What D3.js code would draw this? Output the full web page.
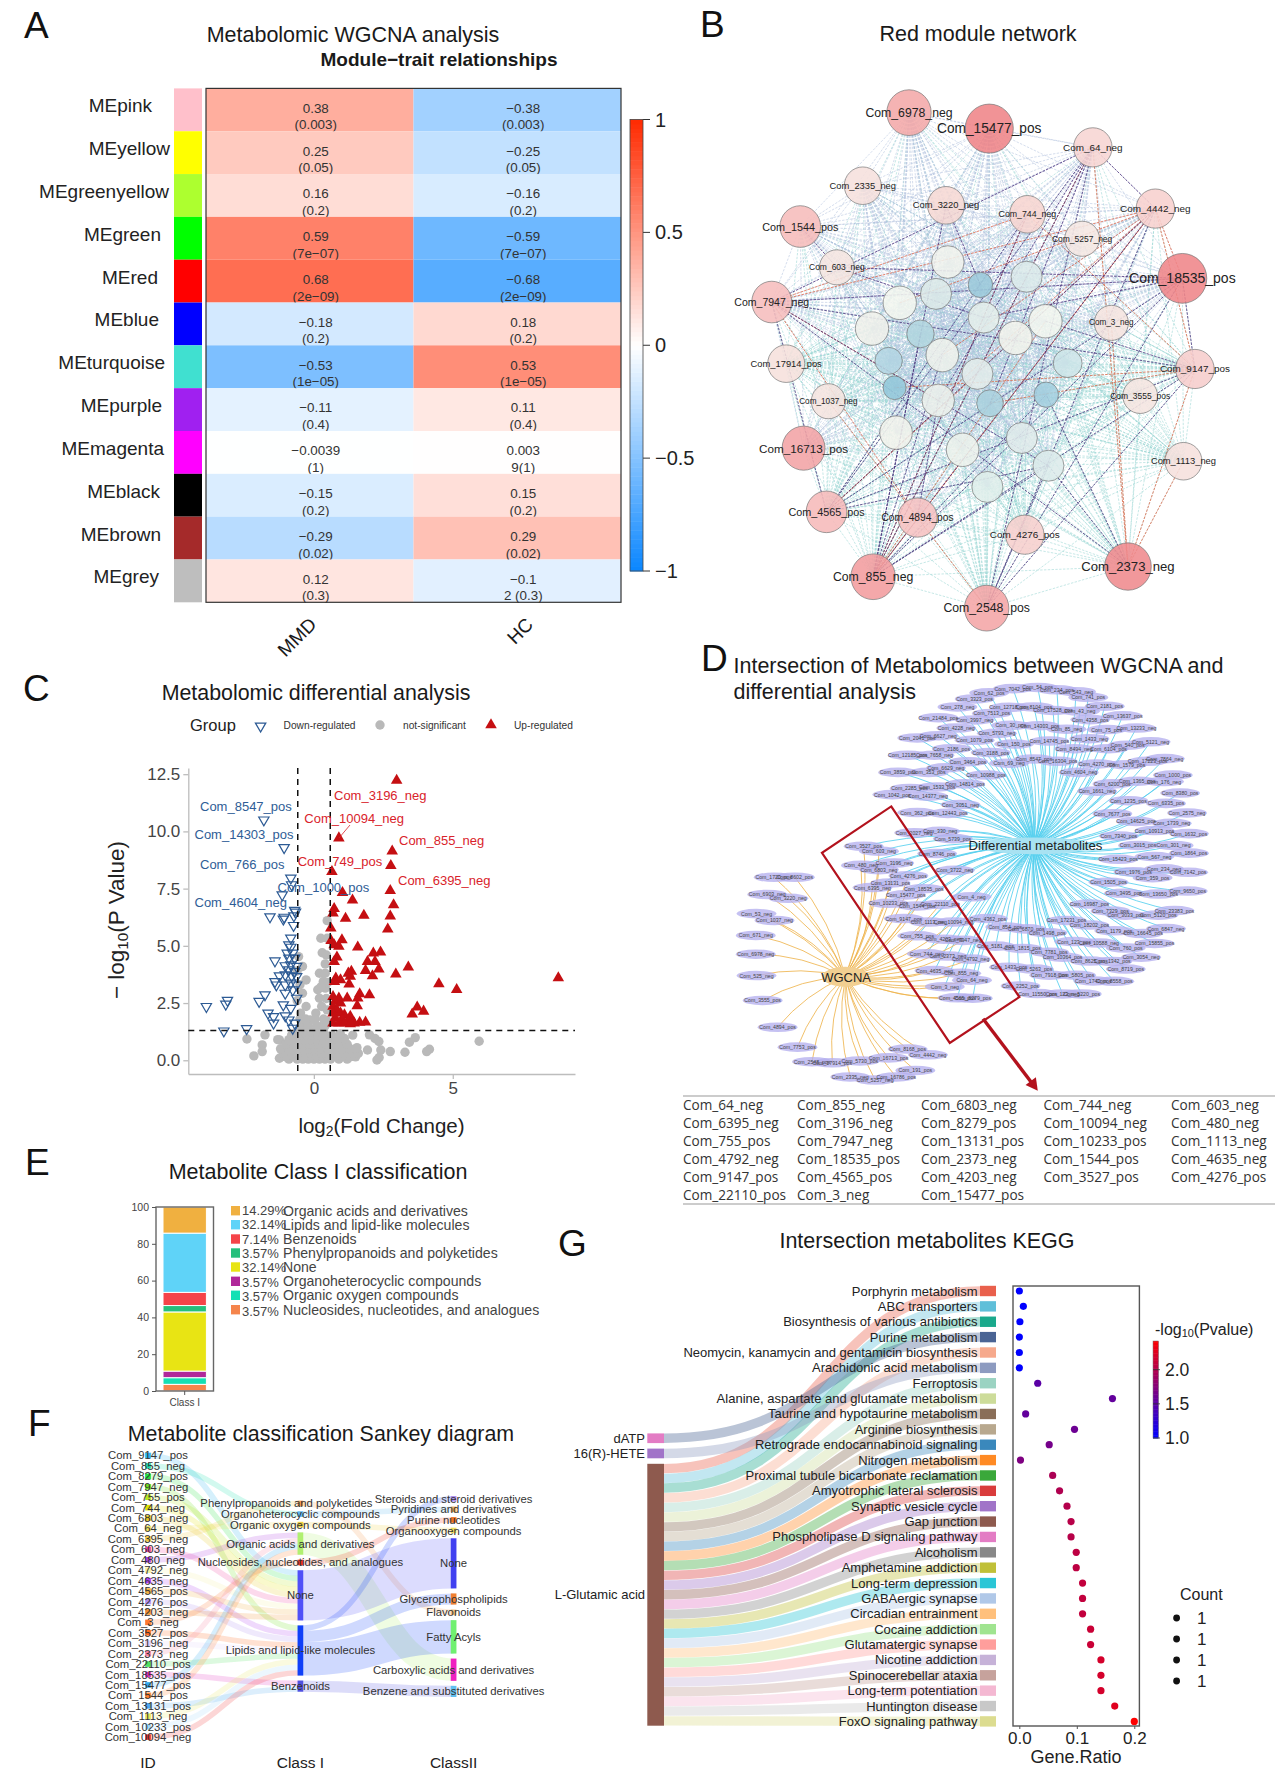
<!DOCTYPE html>
<html><head><meta charset="utf-8">
<script src="https://cdn.jsdelivr.net/npm/d3@7/dist/d3.min.js"></script>
<style>html,body{margin:0;background:#fff}svg{display:block}text{font-family:"Liberation Sans",Arial,sans-serif}</style>
</head><body><svg id="c" width="1280" height="1772"></svg>
<script>
// ---------- A: module-trait heatmap
const moduleNames=["MEpink","MEyellow","MEgreenyellow","MEgreen","MEred","MEblue","MEturquoise","MEpurple","MEmagenta","MEblack","MEbrown","MEgrey"];
const moduleColors=["#ffc0cb","#ffff00","#adff2f","#00ff00","#ff0000","#0000ff","#40e0d0","#a020f0","#ff00ff","#000000","#a52a2a","#bebebe"];
const corrMMD=[0.38,0.25,0.16,0.59,0.68,-0.18,-0.53,-0.11,-0.0039,-0.15,-0.29,0.12];
const corrHC=[-0.38,-0.25,-0.16,-0.59,-0.68,0.18,0.53,0.11,0.0039,0.15,0.29,-0.12];
const mmdLine1=["0.38","0.25","0.16","0.59","0.68","−0.18","−0.53","−0.11","−0.0039","−0.15","−0.29","0.12"];
const mmdLine2=["(0.003)","(0.05)","(0.2)","(7e−07)","(2e−09)","(0.2)","(1e−05)","(0.4)","(1)","(0.2)","(0.02)","(0.3)"];
const hcLine1=["−0.38","−0.25","−0.16","−0.59","−0.68","0.18","0.53","0.11","0.003","0.15","0.29","−0.1"];
const hcLine2=["(0.003)","(0.05)","(0.2)","(7e−07)","(2e−09)","(0.2)","(1e−05)","(0.4)","9(1)","(0.2)","(0.02)","2 (0.3)"];
const traits=["MMD","HC"];
const heatTicks=[1,0.5,0,-0.5,-1];
// ---------- B: network (label, layout x, layout y, layout rx, layout ry, fill)
const hubNodes=[["Com_6978_neg",565,276,60,56,"#f4a9a9"],["Com_15477_pos",782,315,65,60,"#ef8488"],["Com_64_neg",1062,361,52,48,"#f7d5d3"],["Com_2335_neg",440,455,50,46,"#f6e0dd"],["Com_3220_neg",665,503,50,46,"#f6d8d4"],["Com_744_neg",885,525,48,46,"#f7d5d0"],["Com_4442_neg",1231,511,52,48,"#f7d0ce"],["Com_5257_neg",1033,585,47,43,"#f5e7e2"],["Com_1544_pos",271,555,55,51,"#f6bcbb"],["Com_603_neg",370,655,47,43,"#f5e5e0"],["Com_18535_pos",1304,682,66,61,"#ef8589"],["Com_7947_neg",194,740,54,51,"#f6bdbd"],["Com_3_neg",1112,791,46,43,"#f5e4df"],["Com_17914_pos",233,891,50,46,"#f6e0dc"],["Com_9147_pos",1338,904,52,48,"#f6cdcc"],["Com_1037_neg",347,983,46,43,"#f5e4df"],["Com_3555_pos",1190,970,47,43,"#f5e5e0"],["Com_1113_neg",1307,1130,50,46,"#f6e0dd"],["Com_16713_pos",280,1098,58,54,"#f3a3a5"],["Com_4565_pos",342,1254,55,51,"#f6b9b9"],["Com_4894_pos",588,1268,53,48,"#f6c2c1"],["Com_4276_pos",878,1310,52,48,"#f6cfcd"],["Com_855_neg",468,1413,60,56,"#f29c9e"],["Com_2373_neg",1157,1388,63,58,"#ef8a8d"],["Com_2548_pos",775,1490,60,56,"#f4a5a6"]];
const innerNodes=[[670,642,44,40,"#f0f3ed"],[883,678,42,38,"#dcebea"],[758,698,33,31,"#9ccadb"],[638,720,42,38,"#dce9e8"],[540,742,45,41,"#f3f6ef"],[767,778,42,38,"#e4eeea"],[465,805,45,41,"#eff0ea"],[596,818,37,34,"#b2d6df"],[934,787,45,41,"#f3f6ef"],[853,828,45,41,"#f1f2ec"],[655,870,44,41,"#eef1ec"],[510,884,37,33,"#b3d5e2"],[994,890,39,35,"#cde5e8"],[750,916,42,38,"#e3ecea"],[526,950,31,29,"#93c7da"],[936,967,33,31,"#a4cfdf"],[784,988,36,33,"#abd2de"],[644,981,44,40,"#ebefeb"],[530,1060,44,41,"#f1f3ec"],[710,1102,44,41,"#ecf1ec"],[870,1073,42,38,"#dfebea"],[942,1141,42,38,"#dcebea"],[777,1193,42,38,"#dfeeeb"]];
const tealHubs=["2373","2548","1113","9147","4276","1037","17914","4565","855","3555"];
const purpleEdges=[["64","7947"],["64","4442"],["64","855"],["64","2548"],["64","4565"],["64","i16"],["4442","855"],["4442","4565"],["4442","2548"],["18535","855"],["18535","4565"],["9147","855"],["9147","4565"],["9147","2548"],["7947","9147"],["7947","2373"],["7947","18535"],["7947","4565"],["7947","i21"],["1544","603"],["603","18535"],["603","i5"],["3220","i2"],["3220","855"],["744","855"],["744","4565"],["2373","i15"],["2373","i21"],["855","i7"],["855","i10"],["855","i21"],["2548","i21"],["4565","i21"],["855","i15"],["18535","i5"],["i8","9147"],["18535","9147"],["4894","i17"],["18535","2548"],["64","i17"]];
const orangeEdges=[["7947","744"],["7947","4442"],["4442","855"],["4442","i4"],["4442","i10"],["4442","i17"],["4442","4565"],["64","2373"],["64","855"],["4442","9147"],["4442","18535"],["744","9147"],["9147","2373"],["1113","2373"],["1037","2548"],["7947","i17"],["4565","i13"],["855","i8"],["855","744"],["3","2373"],["9147","i16"],["9147","i14"],["7947","4894"],["855","4442"]];
// ---------- C: volcano (log2FC, -log10 P)
const upPoints=[[2.98,12.23],[.9,9.71],[2.82,9.14],[2.77,8.5],[.65,8.24],[2.75,7.41],[1.03,7.32],[1.39,7],[2.87,6.79],[.73,6.62],[.69,6.43],[1.8,6.33],[1.14,6.2],[2.75,6.3],[2.66,5.73],[.61,5.77],[.62,5.23],[1.01,5.26],[.73,5.04],[.9,4.97],[1.58,4.94],[2.4,4.72],[2.14,4.68],[.83,4.5],[.73,4.31],[1.93,4.31],[2.2,4.31],[3.4,4.07],[1.35,3.88],[1.24,3.8],[1.86,3.92],[2.34,3.98],[2.95,3.76],[2.11,3.69],[1.31,3.66],[.79,3.59],[.96,3.51],[.74,3.44],[1.27,3.32],[4.5,3.34],[8.8,3.6],[5.14,3.08],[1.65,2.9],[2,2.86],[.69,2.78],[.9,2.71],[1.2,2.71],[1.58,2.71],[3.72,2.32],[3.95,2.14],[3.54,2.01],[1.56,2.38],[.76,2.57],[.96,2.49],[.69,2.35],[.83,2.2],[.69,2.06],[.96,2.06],[1.1,1.98],[1.31,1.91],[.76,1.84],[1.03,1.76],[1.24,1.69],[1.45,1.62],[1.65,1.65],[1.86,1.66],[.69,1.62],[.9,1.62],[1.1,1.62],[1.31,1.59]];
const downPoints=[[-1.8,10.5],[-1.07,9.29],[-.83,7.96],[-.8,7.67],[-1.14,7.23],[-.69,6.55],[-.66,6.47],[-1.58,6.27],[-1.07,6.25],[-.72,6.31],[-1.1,6.17],[-.73,5.89],[-.83,5.34],[-.9,5.04],[-.83,4.94],[-.96,4.68],[-.76,4.68],[-.9,4.46],[-1.4,4.34],[-.69,4.46],[-1.03,4.13],[-.83,4.17],[-.62,4.1],[-.9,3.95],[-.69,3.88],[-1.24,3.69],[-1.03,3.73],[-.8,3.69],[-.62,3.66],[-1.4,3.44],[-1.35,3.29],[-1.03,3.29],[-.83,3.37],[-.62,3.29],[-1.03,2.93],[-.76,3.08],[-1.76,2.86],[-1.97,2.57],[-3.11,2.62],[-3.17,2.45],[-3.87,2.35],[-1.1,2.42],[-.83,2.27],[-.62,2.71],[-1.65,2.06],[-1.45,1.91],[-1.45,1.62],[-1.03,1.94],[-.9,1.76],[-.69,1.62],[-.76,1.4],[-2.42,1.38],[-3.24,1.28]];
const greyPoints=[[-2.41,.93],[-1.76,1.11],[-1.86,.67],[-2.16,.19],[-1.86,.38],[-1.24,.09],[-1.24,.89],[5.95,.83],[3.65,.99],[3.44,.79],[4.16,.48],[4.06,.38],[2.75,.38],[3.28,.35],[2.34,.82],[2,1.11],[1.93,.45],[2.27,.01],[2.41,.45],[2.2,.95],[2.35,.12],[.48,6.1],[.25,5.33],[.48,5.33],[.41,4.21],[.2,3.8],[.41,3.8],[.34,3.44],[.14,3.08],[.41,3.15],[.2,2.71],[.28,2.35],[.48,2.2],[.07,2.06],[.3,4.7],[.45,4.6],[.5,3.4],[.25,3.2],[.45,2.7],[.3,1.5],[.5,1.7],[-.55,4.53],[-.41,4.1],[-.28,3.51],[-.41,2.93],[-.28,2.35],[-.48,2.06],[-.14,1.76],[-.6,3.9],[-.5,3.3],[-.6,2.6],[-.9,.05],[-.6,.05],[-.4,.05],[-.2,.05],[0,.05],[.2,.05],[.4,.05],[.6,.05],[.9,.05],[1.2,.05],[-1,.15],[-.7,.15],[-.5,.15],[-.3,.15],[-.1,.15],[.1,.15],[.3,.15],[.5,.15],[.7,.15],[1,.15],[1.3,.15],[1.5,.15],[-1.1,.3],[-.8,.3],[-.5,.3],[-.3,.3],[-.1,.3],[.1,.3],[.3,.3],[.5,.3],[.8,.3],[1.1,.3],[1.4,.3],[1.6,.3],[-1.2,.5],[-.9,.5],[-.6,.5],[-.35,.5],[-.15,.5],[.05,.5],[.25,.5],[.5,.5],[.75,.5],[1,.5],[1.3,.5],[1.55,.55],[-1,.7],[-.7,.7],[-.45,.7],[-.2,.7],[0,.7],[.2,.7],[.45,.7],[.7,.7],[.95,.7],[1.2,.7],[-1.3,.9],[-.9,.9],[-.6,.9],[-.35,.9],[-.1,.9],[.1,.9],[.35,.9],[.6,.9],[.85,.9],[1.1,.95],[-.8,1.1],[-.5,1.1],[-.25,1.1],[-.05,1.1],[.15,1.1],[.4,1.1],[.65,1.1],[.95,1.15],[1.4,1.1],[-.6,1.25],[-.35,1.25],[-.1,1.25],[.1,1.25],[.35,1.25],[-.45,1.5],[-.2,1.5],[.1,1.5],[.4,1.5],[-.5,1.8],[-.3,1.8],[.05,1.8],[.35,1.8]];
const volcanoYTicks=[0,2.5,5,7.5,10,12.5];
const volcanoXTicks=[0,5];
const foldCut=[-0.58,0.59];
const pCut=1.3;
// ---------- D: bipartite network (label, layout x, layout y)
const diffOnly=[["Com_7042_pos",870,127],["Com_54_pos",935,124],["Com_234_pos",985,130],["Com_543_neg",1035,135],["Com_62_pos",808,138],["Com_741_pos",1067,150],["Com_3323_pos",770,154],["Com_278_neg",725,175],["Com_12718_pos",860,176],["Com_8104_pos",925,175],["Com_2181_pos",1110,173],["Com_17528_pos",975,184],["Com_43_neg",1045,186],["Com_7513_pos",815,192],["Com_21484_pos",675,203],["Com_3997_neg",770,209],["Com_4358_pos",1072,208],["Com_13637_pos",1157,198],["Com_4228_neg",722,230],["Com_30_pos",865,223],["Com_14303_pos",940,224],["Com_85_neg",1010,233],["Com_75_pos",1115,234],["Com_13233_neg",1193,230],["Com_5793_neg",828,244],["Com_6627_neg",675,250],["Com_2041_pos",620,256],["Com_1079_pos",770,262],["Com_150_pos",873,272],["Com_14745_pos",965,264],["Com_1433_neg",1070,258],["Com_540_pos",1170,275],["Com_5121_neg",1230,266],["Com_2186_pos",710,284],["Com_8494_neg",1030,284],["Com_6104_pos",1120,284],["Com_3188_pos",812,294],["Com_12185_pos",595,301],["Com_7658_neg",665,301],["Com_3464_pos",753,318],["Com_69_neg",860,322],["Com_8547_pos",925,311],["Com_16304_pos",987,317],["Com_4270_pos",1090,324],["Com_1579_pos",1168,326],["Com_17223_pos",1222,317],["Com_7864_neg",1267,310],["Com_6629_neg",695,334],["Com_3859_pos",570,346],["Com_353_pos",650,346],["Com_10988_pos",800,353],["Com_4604_neg",1042,346],["Com_1000_pos",1288,353],["Com_14814_pos",745,376],["Com_6200_pos",1130,376],["Com_1365_pos",1195,369],["Com_176_neg",1265,370],["Com_1533_pos",672,384],["Com_2285_pos",600,388],["Com_1661_neg",1090,395],["Com_1042_pos",555,404],["Com_14377_neg",648,408],["Com_8380_pos",1307,400],["Com_1235_pos",1172,420],["Com_6335_pos",1270,427],["Com_3051_neg",733,430],["Com_362_pos",620,451],["Com_12443_pos",700,453],["Com_2575_neg",1325,452],["Com_7677_pos",1130,454],["Com_14625_pos",1192,474],["Com_1739_neg",1285,479],["Com_10913_pos",1240,498],["Com_1632_pos",1330,506],["Com_2027_neg",612,504],["Com_330_neg",680,500],["Com_5739_pos",713,519],["Com_7340_pos",1147,512],["Com_3015_pos",1197,537],["Com_301_neg",1290,537],["Com_8746_pos",672,558],["Com_1864_pos",1330,557],["Com_567_neg",1240,566],["Com_15423_pos",1145,573],["Com_3722_neg",718,602],["Com_234_neg",1265,598],["Com_7142_pos",1328,607],["Com_1976_pos",1185,606],["Com_359_pos",1235,621],["Com_1505_pos",1120,633],["Com_3495_pos",1160,662],["Com_13650_pos",1250,664],["Com_9650_pos",1327,656],["Com_4_neg",762,671],["Com_16987_pos",1070,690],["Com_7329_pos",1125,708],["Com_23383_pos",1292,707],["Com_3033_pos",1165,719],["Com_5120_pos",1250,719],["Com_4362_pos",805,728],["Com_17231_pos",1010,733],["Com_18202_pos",1070,745],["Com_6847_neg",1270,754],["Com_854_pos",850,750],["Com_6870_pos",905,755],["Com_1498_pos",960,765],["Com_1179_pos",1135,760],["Com_16645_pos",1210,767],["Com_123_pos",1030,788],["Com_10588_neg",1095,792],["Com_15855_pos",1240,793],["Com_5181_pos",825,800],["Com_1815_pos",895,806],["Com_7781_pos",965,816],["Com_760_pos",1165,805],["Com_10364_pos",1000,829],["Com_8625_pos",1070,839],["Com_1342_pos",1130,840],["Com_3054_neg",1205,829],["Com_1433_pos",860,855],["Com_5263_pos",925,860],["Com_8719_pos",1165,860],["Com_7918_pos",965,876],["Com_5805_pos",1035,876],["Com_1740_pos",1080,891],["Com_8558_pos",1135,892],["Com_2252_pos",890,904],["Com_11550_pos",935,924],["Com_123_neg",1000,925],["Com_5220_pos",1050,925]];
const wgcnaOnly=[["Com_1720_pos",245,620],["Com_8602_pos",300,620],["Com_6903_neg",228,665],["Com_3220_neg",283,675],["Com_53_neg",200,715],["Com_1037_neg",247,733],["Com_671_neg",198,772],["Com_6978_neg",198,821],["Com_525_neg",200,877],["Com_3555_pos",216,942],["Com_4894_pos",255,1012],["Com_7753_pos",307,1064],["Com_2548_pos",345,1102],["Com_17914_pos",398,1105],["Com_5730_pos",470,1100],["Com_16713_pos",545,1092],["Com_8168_pos",595,1069],["Com_4442_neg",648,1084],["Com_191_pos",615,1125],["Com_2335_neg",445,1142],["Com_5257_neg",510,1150],["Com_16786_pos",565,1142]];
const sharedNodes=[["Com_3527_pos",480,539],["Com_603_neg",520,552],["Com_480_neg",473,589],["Com_3196_neg",560,583],["Com_6803_neg",520,600],["Com_4276_pos",597,616],["Com_13131_pos",550,635],["Com_6395_neg",503,647],["Com_18535_pos",637,650],["Com_15477_pos",590,666],["Com_10233_pos",545,688],["Com_1544_pos",620,695],["Com_22110_pos",680,691],["Com_9147_pos",585,728],["Com_1113_neg",650,737],["Com_10094_neg",715,737],["Com_755_pos",620,773],["Com_4203_neg",690,782],["Com_7947_neg",740,785],["Com_744_neg",645,820],["Com_2373_neg",700,826],["Com_4792_neg",760,834],["Com_4635_neg",665,864],["Com_855_neg",735,871],["Com_64_neg",763,889],["Com_3_neg",692,906],["Com_4565_pos",725,935],["Com_8279_pos",765,936]];
const tableCols=[["Com_64_neg","Com_6395_neg","Com_755_pos","Com_4792_neg","Com_9147_pos","Com_22110_pos"],["Com_855_neg","Com_3196_neg","Com_7947_neg","Com_18535_pos","Com_4565_pos","Com_3_neg"],["Com_6803_neg","Com_8279_pos","Com_13131_pos","Com_2373_neg","Com_4203_neg","Com_15477_pos"],["Com_744_neg","Com_10094_neg","Com_10233_pos","Com_1544_pos","Com_3527_pos"],["Com_603_neg","Com_480_neg","Com_1113_neg","Com_4635_neg","Com_4276_pos"]];
// ---------- E: class I composition
const classShares=[14.29,32.14,7.14,3.57,32.14,3.57,3.57,3.57];
const classNames=["Organic acids and derivatives","Lipids and lipid-like molecules","Benzenoids","Phenylpropanoids and polyketides","None","Organoheterocyclic compounds","Organic oxygen compounds","Nucleosides, nucleotides, and analogues"];
const classColors=["#f0b040","#5fd3f8","#f54449","#26bf7c","#e8e414","#b0289a","#14e0b4","#f5854c"];
const barTicks=[0,20,40,60,80,100];
// ---------- F: sankey
const sankeyIds=["Com_9147_pos","Com_855_neg","Com_8279_pos","Com_7947_neg","Com_755_pos","Com_744_neg","Com_6803_neg","Com_64_neg","Com_6395_neg","Com_603_neg","Com_480_neg","Com_4792_neg","Com_4635_neg","Com_4565_pos","Com_4276_pos","Com_4203_neg","Com_3_neg","Com_3527_pos","Com_3196_neg","Com_2373_neg","Com_22110_pos","Com_18535_pos","Com_15477_pos","Com_1544_pos","Com_13131_pos","Com_1113_neg","Com_10233_pos","Com_10094_neg"];
const sankeyIdColors=["#2fb6f0","#1fe0b0","#22e040","#70e020","#b8e620","#dfe000","#e8c820","#f0e060","#f0c840","#f040a0","#b040e0","#f5f0a0","#b040f0","#f0b040","#b090f0","#f09030","#ff7a30","#ff6a20","#e0d0f8","#f580a0","#50e060","#e030c0","#30a8f0","#ff8030","#50a8f0","#e8e860","#a0d8f8","#f03030"];
const idClass=["None","Organoheterocyclic compounds","None","Lipids and lipid-like molecules","None","None","None","Organic oxygen compounds","Phenylpropanoids and polyketides","None","Organic acids and derivatives","None","Lipids and lipid-like molecules","None","Lipids and lipid-like molecules","None","Nucleosides, nucleotides, and analogues","Lipids and lipid-like molecules","Lipids and lipid-like molecules","Organic acids and derivatives","Lipids and lipid-like molecules","Benzenoids","Organic acids and derivatives","Organic acids and derivatives","Benzenoids","Lipids and lipid-like molecules","Lipids and lipid-like molecules","Lipids and lipid-like molecules"];
const sankeyClass1=["Phenylpropanoids and polyketides","Organoheterocyclic compounds","Organic oxygen compounds","Organic acids and derivatives","Nucleosides, nucleotides, and analogues","None","Lipids and lipid-like molecules","Benzenoids"];
const sankeyClass1Colors=["#f59a50","#60b8f0","#f0d040","#b0f070","#f03020","#5050f8","#1040f8","#5050e0"];
const sankeyClass2=["Steroids and steroid derivatives","Pyridines and derivatives","Purine nucleotides","Organooxygen compounds","None","Glycerophospholipids","Flavonoids","Fatty Acyls","Carboxylic acids and derivatives","Benzene and substituted derivatives"];
const sankeyClass2Colors=["#b090f0","#f0b060","#f07020","#f0e060","#4040f0","#f08030","#f0c080","#70f070","#f020c0","#60c0f0"];
const class1to2=[[0,6,1],[1,1,1],[2,3,1],[3,8,4],[4,2,1],[5,4,9],[6,0,1],[6,5,2],[6,7,6],[7,9,2]];
// ---------- G: KEGG
const pathways=["Porphyrin metabolism","ABC transporters","Biosynthesis of various antibiotics","Purine metabolism","Neomycin, kanamycin and gentamicin biosynthesis","Arachidonic acid metabolism","Ferroptosis","Alanine, aspartate and glutamate metabolism","Taurine and hypotaurine metabolism","Arginine biosynthesis","Retrograde endocannabinoid signaling","Nitrogen metabolism","Proximal tubule bicarbonate reclamation","Amyotrophic lateral sclerosis","Synaptic vesicle cycle","Gap junction","Phospholipase D signaling pathway","Alcoholism","Amphetamine addiction","Long-term depression","GABAergic synapse","Circadian entrainment","Cocaine addiction","Glutamatergic synapse","Nicotine addiction","Spinocerebellar ataxia","Long-term potentiation","Huntington disease","FoxO signaling pathway"];
const pathwayColors=["#e9604c","#5fbfd9","#1aa98c","#4a6494","#f6a98c","#8d9bc0","#9bd3c2","#cddc9a","#8a6e58","#b8a88e","#3a88bc","#ff8a24","#3aa83a","#d93c3c","#a174c8","#8e5a4e","#e37cc4","#888888","#c0c038","#2ac6d6","#b0c8e8","#ffc07c","#a0e490","#ff9e9c","#c6b2d8","#c6a29c","#f4b8d2","#c8c8c8","#dcdc90"];
const geneRatio=[0,.007,.001,0,0,0,.032,.162,.011,.096,.052,.002,.058,.07,.083,.09,.09,.099,.099,.11,.11,.11,.124,.124,.142,.142,.142,.166,.2];
const logP=[1,1,1,1,1,1,1.5,1.55,1.55,1.6,1.65,1.7,1.95,1.98,2,2.02,2.02,2.05,2.05,2.08,2.08,2.08,2.12,2.12,2.18,2.18,2.18,2.25,2.42];
const metabolites=["dATP","16(R)-HETE","L-Glutamic acid"];
const metaboliteColors=["#e37cc4","#a174c8","#8e5a4e"];
const pathwaySource=pathways.map(p=>p==="Purine metabolism"?0:p==="Arachidonic acid metabolism"?1:2);
const ratioTicks=[0,.1,.2];
const logPTicks=[1,1.5,2];
const countLevels=[1,1,1,1];

const svg=d3.select("#c");
const T=(g,x,y,s,size,opt={})=>{const t=g.append("text").attr("x",x).attr("y",y).attr("font-size",size).attr("fill",opt.fill||"#1a1a1a").attr("text-anchor",opt.anchor||"start").attr("dominant-baseline",opt.base||"central").text(s);if(opt.weight)t.attr("font-weight",opt.weight);if(opt.tr)t.attr("transform",opt.tr);if(opt.ls)t.attr("letter-spacing",opt.ls);if(opt.family)t.style("font-family",opt.family);return t;};
const sub=(t,parts,size)=>{t.text(null);parts.forEach(([s,isSub],i)=>{const sp=t.append("tspan").text(s);if(isSub)sp.attr("font-size",size*.68).attr("dy",size*.28);else if(i>0&&parts[i-1][1])sp.attr("dy",-size*.28);});};
[["A",24,25],["B",700,24],["C",23,688],["D",701,658],["E",25,1162],["F",28,1423],["G",558,1243]].forEach(d=>T(svg,d[1],d[2],d[0],37,{fill:"#111"}));

// ===== A
{const g=svg.append("g");
T(g,353,34.5,"Metabolomic WGCNA analysis",21.5,{anchor:"middle"});
T(g,439,59,"Module−trait relationships",19,{anchor:"middle",weight:"bold"});
const y=d3.scaleBand().domain(moduleNames).range([88.4,602.3]);
const x=d3.scaleBand().domain(traits).range([206,621]);
const blue=d3.interpolateRgb("#fff","#0a86ff"),red=d3.interpolateRgb("#fff","#ff2a00");
const col=v=>v>=0?red(v):blue(-v);
moduleNames.forEach((m,i)=>{
 g.append("rect").attr("x",174).attr("y",y(m)).attr("width",28).attr("height",y.bandwidth()).attr("fill",moduleColors[i]);
 [[traits[0],corrMMD,mmdLine1,mmdLine2],[traits[1],corrHC,hcLine1,hcLine2]].forEach(([tr,c,l1,l2])=>{
  g.append("rect").attr("x",x(tr)).attr("y",y(m)).attr("width",x.bandwidth()).attr("height",y.bandwidth()).attr("fill",col(c[i]));
  const cx=x(tr)+x.bandwidth()/2+6;
  T(g,cx,y(m)+19.8,l1[i],13.4,{anchor:"middle",fill:"#333"});
  T(g,cx,y(m)+36.4,l2[i],13.4,{anchor:"middle",fill:"#333"});
 });
 T(g,[152,170,169,161,158,159,165,162,164,160,161,159][i],y(m)+y.bandwidth()/2-4,m,19,{anchor:"end",fill:"#222"});
});
g.append("rect").attr("x",206).attr("y",88.4).attr("width",415).attr("height",513.9).attr("fill","none").attr("stroke","#333").attr("stroke-width",1.2);
T(g,0,0,"MMD",19,{anchor:"middle",tr:"translate(297,637) rotate(-45)"});
T(g,0,0,"HC",19,{anchor:"middle",tr:"translate(520,631) rotate(-45)"});
const cb=d3.scaleLinear().domain([-1,1]).range([571,119.5]);
d3.range(-1,1,.02).forEach(v=>g.append("rect").attr("x",630).attr("y",cb(v+.02)).attr("width",13).attr("height",cb(v)-cb(v+.02)+.5).attr("fill",col(v+.01)));
heatTicks.forEach(v=>{g.append("line").attr("x1",643).attr("x2",650).attr("y1",cb(v)).attr("y2",cb(v)).attr("stroke","#333");T(g,655,cb(v),String(v).replace("-","−"),20,{fill:"#222"});});
g.append("rect").attr("x",630).attr("y",119.5).attr("width",13).attr("height",451.5).attr("fill","none").attr("stroke","#444").attr("stroke-width",.8);
}
// ===== B
{const g=svg.append("g");
T(g,978,34,"Red module network",21.5,{anchor:"middle"});
const X=d3.scaleLinear().domain([0,1568]).range([700,1280]),Y=d3.scaleLinear().domain([0,1568]).range([0,640]);
const RX=d3.scaleLinear().domain([0,1568]).range([0,580]),RY=d3.scaleLinear().domain([0,1568]).range([0,640]);
const nodes=hubNodes.map(d=>({id:d[0].split("_")[1],label:d[0],x:d[1],y:d[2],rx:d[3],ry:d[4],fill:d[5]})).concat(innerNodes.map((d,i)=>({id:"i"+i,label:"",x:d[0],y:d[1],rx:d[2],ry:d[3],fill:d[4]})));
const byId=new Map(nodes.map(n=>[n.id,n]));
const edge=(a,b,c,w,op,dash)=>g.append("line").attr("x1",X(a.x)).attr("y1",Y(a.y)).attr("x2",X(b.x)).attr("y2",Y(b.y)).attr("stroke",c).attr("stroke-width",w).attr("opacity",op).attr("stroke-dasharray",dash);
nodes.forEach((a,i)=>nodes.forEach((b,j)=>{if(j<=i)return;
 const teal=tealHubs.includes(a.id)||tealHubs.includes(b.id);
 edge(a,b,teal?"#8fd2d0":"#aebfdc",.7,.72,"2.4 1.4");}));
orangeEdges.forEach(([a,b])=>edge(byId.get(a),byId.get(b),"#e8603c",.85,.85,"2.6 1.2"));
purpleEdges.forEach(([a,b])=>edge(byId.get(a),byId.get(b),"#4d2f7c",.9,.85,"2.6 1.2"));
const fs=d3.scaleLinear().domain([46,66]).range([8.2,14]);
g.selectAll("ellipse").data(nodes).join("ellipse").attr("cx",d=>X(d.x)).attr("cy",d=>Y(d.y)).attr("rx",d=>RX(d.rx)).attr("ry",d=>RY(d.ry)).attr("fill",d=>d.fill).attr("fill-opacity",.88).attr("stroke","#777").attr("stroke-width",.7);
nodes.filter(d=>d.label).forEach(d=>T(g,X(d.x),Y(d.y),d.label,fs(d.rx),{anchor:"middle",fill:"#222"}));
}
// ===== C
{const g=svg.append("g");
T(g,316,693,"Metabolomic differential analysis",21.4,{anchor:"middle"});
T(g,190,725,"Group",16.5,{fill:"#222"});
const x=d3.scaleLinear().domain([-4.52,9.4]).range([188.3,575]),y=d3.scaleLinear().domain([-.6,12.77]).range([1074,768]);
const tri=d3.symbol().type(d3.symbolTriangle).size(58)();
const triS=d3.symbol().type(d3.symbolTriangle).size(46)();
const ax=g.append("g").attr("transform","translate(188.3,0)").call(d3.axisLeft(y).tickValues(volcanoYTicks).tickFormat(d3.format(".1f")).tickSize(5).tickSizeOuter(0));
const bx=g.append("g").attr("transform","translate(0,1074)").call(d3.axisBottom(x).tickValues(volcanoXTicks).tickFormat(d3.format("d")).tickSize(5).tickSizeOuter(0));
[ax,bx].forEach(a=>{a.selectAll("path,line").attr("stroke","#bdbdbd").attr("stroke-width",1.3);a.selectAll("text").attr("font-size",17).attr("fill","#444").style("font-family",'"Liberation Sans"');});
g.selectAll(".ns").data(greyPoints).join("circle").attr("cx",d=>x(d[0])).attr("cy",d=>y(d[1])).attr("r",4.7).attr("fill","#b9b9b9");
g.selectAll(".up").data(upPoints).join("path").attr("d",tri).attr("transform",d=>`translate(${x(d[0])},${y(d[1])})`).attr("fill","#c50f12");
g.selectAll(".dn").data(downPoints).join("path").attr("d",triS).attr("transform",d=>`translate(${x(d[0])},${y(d[1])}) rotate(180)`).attr("fill","none").attr("stroke","#2c5a94").attr("stroke-width",1.2);
foldCut.forEach(v=>g.append("line").attr("x1",x(v)).attr("x2",x(v)).attr("y1",768).attr("y2",1074).attr("stroke","#111").attr("stroke-width",1.5).attr("stroke-dasharray","6 5"));
g.append("line").attr("x1",188.3).attr("x2",575).attr("y1",y(pCut)).attr("y2",y(pCut)).attr("stroke","#111").attr("stroke-width",1.5).attr("stroke-dasharray","6 5");
const blueL=[["Com_8547_pos",200,806.5],["Com_14303_pos",194.5,834],["Com_766_pos",200,864.7],["Com_1000_pos",277.5,887.7],["Com_4604_neg",194.5,902.7]];
const redL=[["Com_3196_neg",334,795.3],["Com_10094_neg",304.3,818],["Com_855_neg",399,840],["Com_749_pos",297.7,861.3],["Com_6395_neg",398,880.3]];
blueL.forEach(d=>T(g,d[1],d[2],d[0],13,{fill:"#2f5d96"}));
redL.forEach(d=>T(g,d[1],d[2],d[0],13,{fill:"#d9232b"}));
g.append("line").attr("x1",350).attr("y1",825).attr("x2",339).attr("y2",838).attr("stroke","#d9232b").attr("stroke-width",.8);
g.append("path").attr("d",triS).attr("transform","translate(260.6,726) rotate(180)").attr("fill","none").attr("stroke","#2c5a94").attr("stroke-width",1.3);
g.append("circle").attr("cx",380).attr("cy",725).attr("r",4.7).attr("fill","#b9b9b9");
g.append("path").attr("d",tri).attr("transform","translate(491,725)").attr("fill","#c50f12");
T(g,283.6,725,"Down-regulated",10.2,{fill:"#333"});T(g,403,725,"not-significant",10.2,{fill:"#333"});T(g,514,725,"Up-regulated",10.2,{fill:"#333"});
const yl=T(g,0,0,"",22.5,{anchor:"middle",tr:"translate(116,920) rotate(-90)",fill:"#222"});sub(yl,[["− log",0],["10",1],["(P Value)",0]],22.5);
const xl=T(g,381.5,1125,"",20.5,{anchor:"middle",fill:"#222"});sub(xl,[["log",0],["2",1],["(Fold Change)",0]],20.5);
}
// ===== D
{const g=svg.append("g");
T(g,733.5,666,"Intersection of Metabolomics between WGCNA and",21.5);
T(g,733.5,691.7,"differential analysis",21.5);
const X=d3.scaleLinear().domain([0,1568]).range([680,1280]),Y=d3.scaleLinear().domain([0,1568]).range([640,1240]);
const R=d3.scaleLinear().domain([0,1568]).range([0,600]);
const hubD=[925,538],hubW=[432,880];
const curve=(h,n)=>{const p=d3.path(),x0=X(h[0]),y0=Y(h[1]),x1=X(n[1]),y1=Y(n[2]);p.moveTo(x0,y0);const k=.12;p.quadraticCurveTo((x0+x1)/2-(y1-y0)*k,(y0+y1)/2+(x1-x0)*k,x1,y1);return p.toString();};
const link=(h,n,c)=>g.append("path").attr("d",curve(h,n)).attr("fill","none").attr("stroke",c).attr("stroke-width",.85);
diffOnly.concat(sharedNodes).forEach(n=>link(hubD,n,"#56d0ee"));
wgcnaOnly.concat(sharedNodes).forEach(n=>link(hubW,n,"#efb54f"));
const all=diffOnly.concat(wgcnaOnly,sharedNodes);
g.selectAll("ellipse").data(all).join("ellipse").attr("cx",d=>X(d[1])).attr("cy",d=>Y(d[2])).attr("rx",R(52)).attr("ry",R(12.5)).attr("fill","#b5afee").attr("fill-opacity",.78);
all.forEach(d=>T(g,X(d[1]),Y(d[2]),d[0],5.2,{anchor:"middle",fill:"#444"}));
g.append("ellipse").attr("cx",X(925)).attr("cy",Y(538)).attr("rx",R(150)).attr("ry",R(22)).attr("fill","#a8e2f2");
g.append("ellipse").attr("cx",X(432)).attr("cy",Y(880)).attr("rx",R(60)).attr("ry",R(26)).attr("fill","#f2cf91");
T(g,X(929),Y(538),"Differential metabolites",13.2,{anchor:"middle",fill:"#222"});
T(g,X(434),Y(881),"WGCNA",13,{anchor:"middle",fill:"#222"});
const box=[[552,435],[887,933],[705,1053],[371,556]].map(d=>[X(d[0]),Y(d[1])]);
g.append("path").attr("d",d3.line()(box)+"Z").attr("fill","none").attr("stroke","#b3121d").attr("stroke-width",2.2);
g.append("line").attr("x1",X(792)).attr("y1",Y(990)).attr("x2",X(922)).attr("y2",Y(1161)).attr("stroke","#b3121d").attr("stroke-width",3.4);
g.append("path").attr("d",d3.line()([[X(935),Y(1178)],[X(903),Y(1163)],[X(930),Y(1143)]])+"Z").attr("fill","#b3121d");
g.append("line").attr("x1",683).attr("x2",1275).attr("y1",1096).attr("y2",1096).attr("stroke","#999").attr("stroke-width",1.2);
g.append("line").attr("x1",683).attr("x2",1275).attr("y1",1204).attr("y2",1204).attr("stroke","#999").attr("stroke-width",1.2);
const colX=[683,797,921,1043.5,1171];
const rows=d3.scaleLinear().domain([0,5]).range([1104.5,1194.5]);
tableCols.forEach((c,i)=>c.forEach((s,j)=>T(g,colX[i],rows(j),s,13.6,{fill:"#333",family:'"Open Sans"'})));
}
// ===== E
{const g=svg.append("g");
T(g,318,1171.7,"Metabolite Class I classification",21.5,{anchor:"middle"});
const y=d3.scaleLinear().domain([0,100]).range([1391,1207]);
let top=100;
classShares.forEach((v,i)=>{const t=top,b=top-v;top=b;
 g.append("rect").attr("x",163).attr("width",43.4).attr("y",y(t)).attr("height",y(b)-y(t)).attr("fill",classColors[i]).attr("stroke","#fff").attr("stroke-width",1);
 const ly=[1210.7,1224.7,1239,1253,1267,1281.3,1295.3,1309.7][i];
 g.append("rect").attr("x",231).attr("y",ly-4.7).attr("width",9).attr("height",9.4).attr("fill",classColors[i]);
 T(g,242,ly+(i>4?1.5:0),v.toFixed(2)+"%",13,{fill:"#444"});
 T(g,283,ly,classNames[i],14.1,{fill:"#444"});
});
g.append("rect").attr("x",156).attr("y",1207).attr("width",57.5).attr("height",184).attr("fill","none").attr("stroke","#666").attr("stroke-width",1.4);
const a=g.append("g").attr("transform","translate(156,0)").call(d3.axisLeft(y).tickValues(barTicks).tickSize(4).tickSizeOuter(0));
a.select(".domain").remove();a.selectAll("line").attr("stroke","#555");a.selectAll("text").attr("font-size",10.5).attr("fill","#444").style("font-family",'"Liberation Sans"');
g.append("line").attr("x1",184.7).attr("x2",184.7).attr("y1",1391).attr("y2",1395).attr("stroke","#555");
T(g,184.7,1402,"Class I",10,{anchor:"middle",fill:"#444"});
}
// ===== F
{const g=svg.append("g");
T(g,321,1434,"Metabolite classification Sankey diagram",21.4,{anchor:"middle"});
const h=d3.scaleLinear().domain([0,28]).range([0,156]);
const gap=5;
const idY=d3.scaleLinear().domain([0,27]).range([1452.7,1452.7+27*10.43]);
const idNodes=sankeyIds.map((s,i)=>({name:s,y0:idY(i),y1:idY(i)+h(1),color:sankeyIdColors[i]}));
const unitsC1=sankeyClass1.map(c=>idClass.filter(k=>k===c).length);
const stack=(names,units,top,colors)=>{let y=top;return names.map((n,i)=>{const o={name:n,y0:y,y1:y+h(units[i]),color:colors[i],inUsed:0,outUsed:0};y=o.y1+gap;return o;});};
const c1=stack(sankeyClass1,unitsC1,1500.7,sankeyClass1Colors);
const unitsC2=sankeyClass2.map((c,i)=>d3.sum(class1to2.filter(f=>f[1]===i),f=>f[2]));
const c2=stack(sankeyClass2,unitsC2,1496,sankeyClass2Colors);
const lk=d3.linkHorizontal();
const xs=[148,300.4,453.6],nw=5.7;
const band=(x0,x1,y0,y1,w,color)=>g.append("path").attr("d",lk({source:[x0,y0],target:[x1,y1]})).attr("fill","none").attr("stroke",color).attr("stroke-width",w).attr("stroke-opacity",.2);
idNodes.forEach((n,i)=>{const t=c1[sankeyClass1.indexOf(idClass[i])];const w=h(1);band(xs[0],xs[1],n.y0+w/2,t.y0+t.inUsed+w/2,w,n.color);t.inUsed+=w;});
class1to2.forEach(([a,b,u])=>{const s=c1[a],t=c2[b],w=h(u);band(xs[1],xs[2],s.y0+s.outUsed+w/2,t.y0+t.inUsed+w/2,w,s.color);s.outUsed+=w;t.inUsed+=w;});
[[idNodes,xs[0]],[c1,xs[1]],[c2,xs[2]]].forEach(([ns,x])=>ns.forEach(n=>{
 g.append("rect").attr("x",x-nw/2).attr("y",n.y0).attr("width",nw).attr("height",n.y1-n.y0).attr("fill",n.color);
 T(g,x-(n.name===sankeyClass1[0]?14:0),(n.y0+n.y1)/2,n.name,11.3,{anchor:"middle",fill:"#333"});
}));
T(g,148,1762,"ID",15.5,{anchor:"middle",fill:"#222"});T(g,300.4,1762,"Class I",15.5,{anchor:"middle",fill:"#222"});T(g,453.6,1762,"ClassII",15.5,{anchor:"middle",fill:"#222"});
}
// ===== G
{const g=svg.append("g");
T(g,927,1241,"Intersection metabolites KEGG",21.5,{anchor:"middle"});
const y=d3.scalePoint().domain(pathways).range([1291,1721.4]);
const unit=9.7,gapL=5.5;
let ly=1433.4;
const left=metabolites.map((m,i)=>{const u=pathwaySource.filter(s=>s===i).length;const o={y0:ly,y1:ly+u*unit,used:0};ly=o.y1+gapL;return o;});
const lk=d3.linkHorizontal();
pathways.forEach((p,i)=>{const s=left[pathwaySource[i]];
 g.append("path").attr("d",lk({source:[664,s.y0+s.used+unit/2],target:[980,y(p)]})).attr("fill","none").attr("stroke",pathwayColors[i]).attr("stroke-width",unit-.3).attr("stroke-opacity",.38);s.used+=unit;
 g.append("rect").attr("x",980).attr("y",y(p)-5.2).attr("width",16).attr("height",10.4).attr("fill",pathwayColors[i]);
 T(g,977.5,y(p),p,13,{anchor:"end",fill:"#222"});
});
metabolites.forEach((m,i)=>{g.append("rect").attr("x",647.3).attr("y",left[i].y0).attr("width",16.7).attr("height",left[i].y1-left[i].y0).attr("fill",metaboliteColors[i]);
 T(g,645,(left[i].y0+left[i].y1)/2,m,13,{anchor:"end",fill:"#222"});});
const x=d3.scaleLinear().domain([-.011,.2089]).range([1013,1139.4]);
const color=d3.scaleLinear().domain([1,2.42]).range(["#0000ff","#ff0000"]);
g.append("rect").attr("x",1013).attr("y",1286).attr("width",126.4).attr("height",440).attr("fill","none").attr("stroke","#555").attr("stroke-width",1.4);
g.selectAll(".d").data(pathways).join("circle").attr("cx",(d,i)=>x(geneRatio[i])).attr("cy",d=>y(d)).attr("r",3.6).attr("fill",(d,i)=>color(logP[i]));
const a=g.append("g").attr("transform","translate(0,1726)").call(d3.axisBottom(x).tickValues(ratioTicks).tickFormat(d3.format(".1f")).tickSize(3).tickSizeOuter(0));
a.select(".domain").remove();a.selectAll("line").attr("stroke","#555");a.selectAll("text").attr("font-size",17).attr("fill","#222").style("font-family",'"Liberation Sans"');
T(g,1076,1757,"Gene.Ratio",18,{anchor:"middle",fill:"#222"});
const t=T(g,1155,1329,"",16,{fill:"#222"});sub(t,[["-log",0],["10",1],["(Pvalue)",0]],16);
const cb=d3.scaleLinear().domain([1,2.42]).range([1438,1341]);
d3.range(1,2.42,.02).forEach(v=>g.append("rect").attr("x",1153).attr("y",cb(v+.02)).attr("width",5.5).attr("height",cb(v)-cb(v+.02)+.5).attr("fill",color(v)));
g.append("rect").attr("x",1153).attr("y",1341).attr("width",5.5).attr("height",97).attr("fill","none").attr("stroke","#777").attr("stroke-width",.5);
logPTicks.forEach(v=>{g.append("line").attr("x1",1153).attr("x2",1160).attr("y1",cb(v)).attr("y2",cb(v)).attr("stroke","#333").attr("stroke-width",.8);T(g,1165,cb(v),v.toFixed(1),17.5,{fill:"#222"});});
T(g,1180,1594,"Count",16,{fill:"#222"});
const cy=d3.scalePoint().domain(d3.range(4)).range([1618,1681]);
countLevels.forEach((c,i)=>{g.append("circle").attr("cx",1176.6).attr("cy",cy(i)).attr("r",3.4).attr("fill","#111");T(g,1197,cy(i),String(c),17,{fill:"#222"});});
}
</script></body></html>
